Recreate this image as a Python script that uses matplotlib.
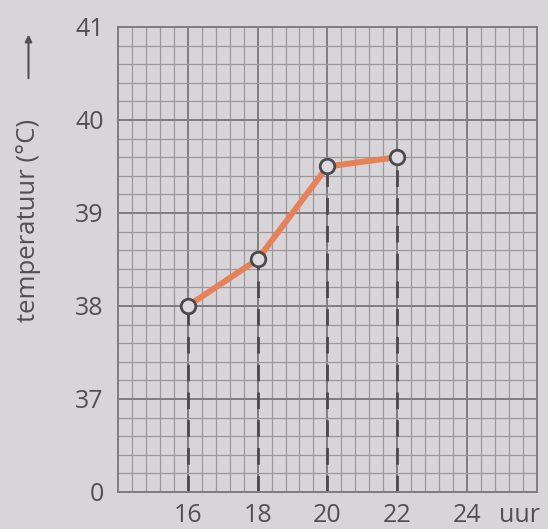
import matplotlib
matplotlib.use("Agg")
import matplotlib.pyplot as plt
import matplotlib.transforms as mtransforms
import numpy as np

hours = [16, 18, 20, 22]
temps = [38.0, 38.5, 39.5, 39.6]
x_ticks = [16, 18, 20, 22, 24]
x_tick_labels = ["16", "18", "20", "22", "24"]
y_ticks = [36, 37, 38, 39, 40, 41]
y_tick_labels = ["0", "37", "38", "39", "40", "41"]

bg = "#d8d5d8"
grid_minor = "#9b999d"
grid_major = "#7f7d82"
text_col = "#505056"
orange = "#e6825a"
dark = "#4a4a4e"
marker_face = "#dcdadc"

plt.rcParams['font.family'] = ['Open Sans', 'DejaVu Sans']

fig = plt.figure(figsize=(5.48, 5.29), dpi=100, facecolor=bg)
ax = fig.add_axes([0.215, 0.070, 0.765, 0.879])
ax.set_facecolor(bg)
ax.set_xlim(14, 26)
ax.set_ylim(36, 41)

# grid
for xv in np.arange(14, 26.001, 0.4):
    major = abs((xv - 14) / 2 - round((xv - 14) / 2)) < 1e-6
    ax.axvline(xv, color=grid_major if major else grid_minor,
               lw=1.4 if major else 0.9, zorder=1)
for yv in np.arange(36, 41.001, 0.2):
    major = abs(yv - round(yv)) < 1e-6
    ax.axhline(yv, color=grid_major if major else grid_minor,
               lw=1.4 if major else 0.9, zorder=1)

# dashed drop lines
for h, t in zip(hours, temps):
    ax.plot([h, h], [36, t - 0.08], color=dark, lw=2.0,
            linestyle=(0, (6, 4)), zorder=2, dash_capstyle='butt')

ax.plot(hours, temps, color=orange, lw=4.3, zorder=3, solid_capstyle='round')
ax.plot(hours, temps, linestyle='none', marker='o', markersize=10.5,
        markerfacecolor=marker_face, markeredgecolor=dark,
        markeredgewidth=2.0, zorder=4)

for s in ax.spines.values():
    s.set_color(grid_major)
    s.set_linewidth(1.4)

ax.set_xticks(x_ticks)
ax.set_xticklabels(x_tick_labels)
ax.set_yticks(y_ticks)
ax.set_yticklabels(y_tick_labels)
ax.tick_params(length=0, labelsize=18, colors=text_col)
ax.tick_params(axis='x', pad=8)
ax.tick_params(axis='y', pad=10)

t_uur = ax.text(25.5, 36, "uur", fontsize=18, color=text_col,
                ha='center', va='top', clip_on=False)
t_uur.set_transform(ax.transData + mtransforms.ScaledTranslation(0, -8 / 72, fig.dpi_scale_trans))

fig.text(0.052, 0.584, "temperatuur (°C)", rotation=90, fontsize=18.5,
         color=text_col, ha='center', va='center')
ax.annotate("", xy=(0.052, 0.94), xytext=(0.052, 0.847),
            xycoords='figure fraction', textcoords='figure fraction',
            arrowprops=dict(arrowstyle='-|>', color=text_col, lw=1.5,
                            mutation_scale=10))

fig.savefig("out.png", dpi=100, facecolor=bg)
